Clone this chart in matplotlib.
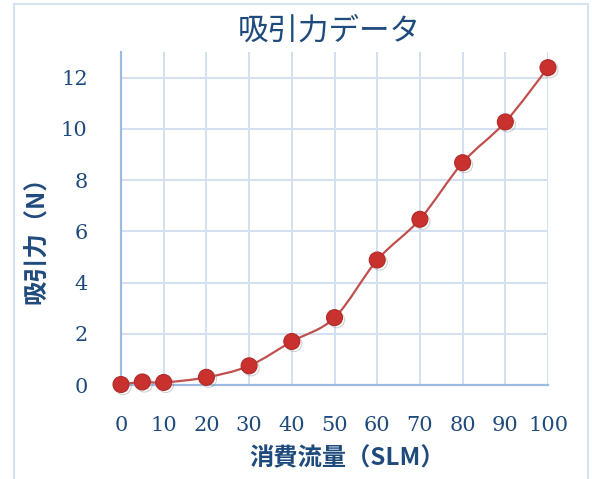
import numpy as np
import matplotlib
matplotlib.use("Agg")
import matplotlib.pyplot as plt
import matplotlib.patheffects as pe
from matplotlib.path import Path
from matplotlib.patches import PathPatch, Rectangle

# --- データ ---
flow_slm = [0, 5, 10, 20, 30, 40, 50, 60, 70, 80, 90, 100]
force_n = [0.02, 0.12, 0.10, 0.30, 0.75, 1.70, 2.63, 4.88, 6.47, 8.68, 10.27, 12.39]
x_ticks = [0, 10, 20, 30, 40, 50, 60, 70, 80, 90, 100]
y_ticks = [0, 2, 4, 6, 8, 10, 12]

title_text = "吸引力データ"
x_label = "消費流量（SLM）"
y_label = "吸引力（N）"

# --- スタイル ---
DARK_BLUE = "#1f4a7c"
GRID_BLUE = "#d3e0f1"
AXIS_BLUE = "#9dbbe0"
LINE_RED = "#c0504d"
MARKER_RED = "#c8312e"
CJK = ["Noto Sans CJK JP", "DejaVu Sans"]


def smooth_path(xs, ys):
    # Excel風のスムージング (Catmull-Rom -> cubic Bezier)
    pts = np.column_stack([xs, ys]).astype(float)
    n = len(pts)
    verts = [pts[0]]
    codes = [Path.MOVETO]
    for i in range(n - 1):
        p0 = pts[i - 1] if i > 0 else pts[i]
        p1 = pts[i]
        p2 = pts[i + 1]
        p3 = pts[i + 2] if i + 2 < n else pts[i + 1]
        c1 = p1 + (p2 - p0) / 6.0
        c2 = p2 - (p3 - p1) / 6.0
        verts += [c1, c2, p2]
        codes += [Path.CURVE4] * 3
    return Path(verts, codes)


fig = plt.figure(figsize=(5.92, 4.79), dpi=100)
ax = fig.add_axes([0.2044, 0.1962, 0.7213, 0.6952])

# 外枠
fig.patches.append(Rectangle((14 / 592, -0.05), (588 - 14) / 592, 1.05 - 4 / 479,
                             transform=fig.transFigure, fill=False,
                             edgecolor="#d6e2f3", linewidth=1.5))

ax.set_xlim(0, 100)
ax.set_ylim(0, 13)
ax.set_xticks(x_ticks)
ax.set_yticks(y_ticks)
ax.grid(True, color=GRID_BLUE, linewidth=1.4)
ax.set_axisbelow(True)
for s in ["top", "right"]:
    ax.spines[s].set_visible(False)
for s in ["left", "bottom"]:
    ax.spines[s].set_color(AXIS_BLUE)
    ax.spines[s].set_linewidth(1.6)
ax.tick_params(length=0, labelsize=15, labelcolor=DARK_BLUE)
ax.tick_params(axis="x", pad=22)
ax.tick_params(axis="y", pad=24)
for lab in ax.get_xticklabels() + ax.get_yticklabels():
    lab.set_family("DejaVu Serif")

# 平滑化した折れ線
ax.add_patch(PathPatch(smooth_path(flow_slm, force_n), facecolor="none",
                       edgecolor=LINE_RED, linewidth=1.6, clip_on=False, zorder=3))
ax.plot(flow_slm, force_n, linestyle="none", marker="o", markersize=11.5,
        markerfacecolor=MARKER_RED, markeredgecolor="#b02a28", markeredgewidth=0.8,
        clip_on=False, zorder=4,
        path_effects=[pe.SimpleLineShadow(offset=(1.5, -1.5), alpha=0.35, shadow_color="gray"),
                      pe.Normal()])

fig.text(0.557, 0.935, title_text, ha="center", va="center", fontsize=22,
         color=DARK_BLUE, family=CJK)
fig.text(0.586, 0.044, x_label, ha="center", va="center", fontsize=17.5,
         color=DARK_BLUE, family=CJK, fontweight="bold")
fig.text(0.061, 0.51, y_label, ha="center", va="center", fontsize=17.5,
         color=DARK_BLUE, family=CJK, fontweight="bold", rotation=90)

fig.savefig("out.png", dpi=100)
